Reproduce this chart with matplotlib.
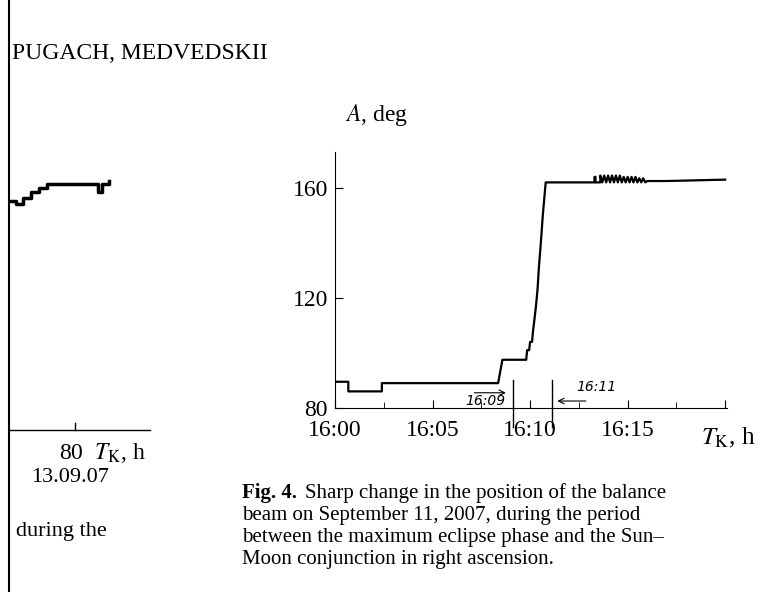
import matplotlib.pyplot as plt

plt.rcParams['font.family'] = 'Liberation Serif'
plt.rcParams['mathtext.fontset'] = 'stix'

# main chart: minutes after 16:00 vs angle A (deg)
t_min = [0, 0.68, 0.68, 2.4, 2.4, 5.0, 8.36, 8.58, 9.8, 9.85, 9.95, 10.0, 10.1, 10.15,
         10.22, 10.3, 10.38, 10.45, 10.55, 10.65, 10.75, 10.8, 13.3, 13.3, 13.35, 13.35,
         13.6, 13.6, 13.7, 13.8, 13.9, 14.0, 14.1, 14.2, 14.3, 14.4, 14.5, 14.6, 14.7,
         14.8, 14.9, 15.0, 15.1, 15.2, 15.3, 15.4, 15.5, 15.6, 15.7, 15.8, 15.9, 16.0,
         17.0, 20.0]
a_deg = [89.5, 89.5, 86.0, 86.0, 89.0, 89.0, 89.0, 97.5, 97.5, 101.0, 101.0, 104.0, 104.0,
         108.0, 112.0, 117.0, 123.0, 131.0, 140.0, 150.0, 158.0, 162.0, 162.0, 164.0, 164.0,
         162.0, 162.0, 164.5, 162.0, 164.5, 162.0, 164.5, 162.0, 164.5, 162.0, 164.5, 162.0,
         164.5, 162.0, 164.0, 162.0, 164.0, 162.0, 164.0, 162.0, 164.0, 162.0, 163.5, 162.0,
         163.5, 162.0, 162.5, 162.5, 163.0]
marks = [9.13, 11.1]
xticks = [0, 5, 10, 15, 20]
xlabels = ['16:00', '16:05', '16:10', '16:15', '']
yticks = [80, 120, 160]

fig = plt.figure(figsize=(7.81, 5.92), dpi=100)
ax = fig.add_axes([0.429, 0.311, 0.502, 0.432])
ax.plot(t_min, a_deg, color='black', lw=1.6)
ax.set_xlim(0, 20.1)
ax.set_ylim(80, 173)
for s in ['top', 'right']:
    ax.spines[s].set_visible(False)
ax.set_xticks(xticks)
ax.set_xticklabels(xlabels, fontsize=17)
ax.set_yticks(yticks)
ax.set_yticklabels([str(v) for v in yticks], fontsize=17)
ax.tick_params(axis='x', direction='in', length=6, pad=9)
ax.tick_params(axis='y', direction='in', length=6, pad=5)
ax.set_xticks([2.5, 7.5, 12.5, 17.5], minor=True)
ax.tick_params(which='minor', direction='in', length=4)

for m in marks:
    ax.plot([m, m], [73, 90], color='black', lw=1, clip_on=False)
ax.annotate('', xy=(8.9, 85.5), xytext=(7.0, 85.5),
            arrowprops=dict(arrowstyle='->', lw=0.8))
ax.text(7.7, 81, '16:09', fontsize=10, style='italic', family='DejaVu Sans', ha='center')
ax.annotate('', xy=(11.25, 82.5), xytext=(13.0, 82.5),
            arrowprops=dict(arrowstyle='->', lw=0.8))
ax.text(13.4, 86, '16:11', fontsize=10, style='italic', family='DejaVu Sans', ha='center')

fig.text(0.442, 0.795, r'$A$, deg', fontsize=17)
fig.text(0.897, 0.25, r'$T_{\rm K}$, h', fontsize=18)

# partial left chart and page text
fig.add_artist(plt.Line2D([0.012, 0.012], [0, 1], color='black', lw=1.5))
fig.add_artist(plt.Line2D([0.012, 0.192], [0.274, 0.274], color='black', lw=1))
fig.add_artist(plt.Line2D([0.096, 0.096], [0.274, 0.286], color='black', lw=1))
lx = [0.013, 0.02, 0.03, 0.04, 0.05, 0.06, 0.12, 0.125, 0.13, 0.14]
ly = [0.66, 0.655, 0.665, 0.675, 0.683, 0.69, 0.69, 0.675, 0.69, 0.695]
fig.add_artist(plt.Line2D(lx, ly, color='black', lw=2.5, drawstyle='steps-post'))
fig.text(0.075, 0.225, r'80  $T_{\rm K}$, h', fontsize=17)
fig.text(0.04, 0.185, '13.09.07', fontsize=16)
fig.text(0.02, 0.095, 'during the', fontsize=16)
fig.text(0.016, 0.9, 'PUGACH, MEDVEDSKII', fontsize=17)

cap_lines = ['beam on September 11, 2007, during the period',
             'between the maximum eclipse phase and the Sun\u2013',
             'Moon conjunction in right ascension.']
fig.text(0.31, 0.158, 'Fig. 4.', fontsize=15, weight='bold')
fig.text(0.39, 0.158, 'Sharp change in the position of the balance', fontsize=15)
for i, line in enumerate(cap_lines):
    fig.text(0.31, 0.122 - i * 0.037, line, fontsize=15)

fig.savefig('out.png', dpi=100)
